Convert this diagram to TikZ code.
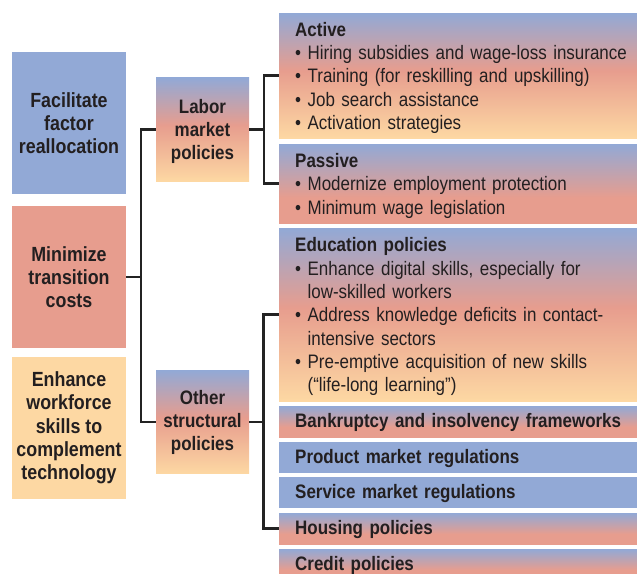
\documentclass[tikz,border=0pt]{standalone}
\usepackage{fontspec}
\setmainfont{Liberation Sans}[FakeStretch=0.87]
\definecolor{cblue}{RGB}{146,169,214}
\definecolor{csalmon}{RGB}{231,157,142}
\definecolor{cpeach}{RGB}{253,216,163}
\definecolor{ctext}{RGB}{35,31,32}
\definecolor{cline}{RGB}{35,35,35}
\pgfdeclareverticalshading{tri}{100bp}{color(0bp)=(cpeach); color(25bp)=(cpeach); color(52bp)=(csalmon); color(75bp)=(cblue); color(100bp)=(cblue)}
\pgfdeclareverticalshading{duo}{100bp}{color(0bp)=(csalmon); color(25bp)=(csalmon); color(41bp)=(csalmon); color(75bp)=(cblue); color(100bp)=(cblue)}
\tikzset{
  lbox/.style={rectangle, minimum width=114pt, minimum height=142pt, inner sep=0pt, align=center,
    font=\bfseries\fontsize{20.5}{23.3}\selectfont, text=ctext},
  mbox/.style={rectangle, shading=tri, minimum width=93pt, minimum height=103.5pt, inner sep=0pt, align=center,
    font=\bfseries\fontsize{19.5}{23}\selectfont, text=ctext},
  rbox/.style={rectangle, anchor=west, text width=340pt, inner xsep=16pt, inner ysep=0pt, align=left,
    font=\fontsize{19.5}{23.3}\selectfont, text=ctext},
  onebox/.style={rbox, minimum height=31pt, font=\bfseries\fontsize{19.5}{23.3}\selectfont},
  conn/.style={draw=cline, line width=2.2pt, line join=miter}
}
\newcommand{\bul}{\textbullet\ }
\newcommand{\ind}{\phantom{\textbullet\ }}
\newcommand{\topst}{\rule{0pt}{18.5pt}}
\newcommand{\onest}{\rule{0pt}{17pt}}
\begin{document}
\begin{tikzpicture}[x=1pt,y=1pt]
\useasboundingbox (0,0) rectangle (637,-573);
\clip (0,0) rectangle (637,-573);
% left column
\node[lbox, fill=cblue] (fac) at (69,-123) {Facilitate\\factor\\reallocation};
\node[lbox, fill=csalmon] (mini) at (69,-277) {Minimize\\transition\\costs};
\node[lbox, fill=cpeach] (enh) at (69,-428) {Enhance\\workforce\\skills to\\complement\\technology};
% middle column
\node[mbox] (labor) at (202.5,-129.5) {\topst Labor\\market\\policies};
\node[mbox] (other) at (202.5,-422) {Other\\structural\\policies};
% right column
\node[rbox, shading=tri, minimum height=125pt] (active) at (279,-75.5) {\topst\textbf{Active}\\
\bul Hiring subsidies and wage-loss insurance\\
\bul Training (for reskilling and upskilling)\\
\bul Job search assistance\\
\bul Activation strategies};
\node[rbox, shading=duo, minimum height=79pt] (passive) at (279,-183.5) {\topst\textbf{Passive}\\
\bul Modernize employment protection\\
\bul Minimum wage legislation};
\node[rbox, shading=tri, minimum height=173pt] (edu) at (279,-314.5) {\topst\textbf{Education policies}\\
\bul Enhance digital skills, especially for\\
\ind low-skilled workers\\
\bul Address knowledge deficits in contact-\\
\ind intensive sectors\\
\bul Pre-emptive acquisition of new skills\\
\ind (“life-long learning”)};
\node[onebox, shading=duo] (bank) at (279,-421.5) {\onest Bankruptcy and insolvency frameworks};
\node[onebox, fill=cblue] (prod) at (279,-457.5) {\onest Product market regulations};
\node[onebox, fill=cblue] (serv) at (279,-492.5) {\onest Service market regulations};
\node[onebox, shading=duo] (hous) at (279,-528.5) {\onest Housing policies};
\node[onebox, shading=duo] (cred) at (279,-564.5) {\onest Credit policies};
% connectors
\coordinate (lc) at (140.7,-277);
\coordinate (lb) at (264,-129.5);
\coordinate (ob) at (263.5,-422);
\draw[conn] (mini.east) -- (lc);
\draw[conn] (labor.west) -| (lc) |- (other.west);
\draw[conn] (labor.east) -- (lb);
\draw[conn] (active.west) -| (lb) |- (passive.west);
\draw[conn] (other.east) -- (ob);
\draw[conn] (edu.west) -| (ob) |- (hous.west);
\end{tikzpicture}
\end{document}
